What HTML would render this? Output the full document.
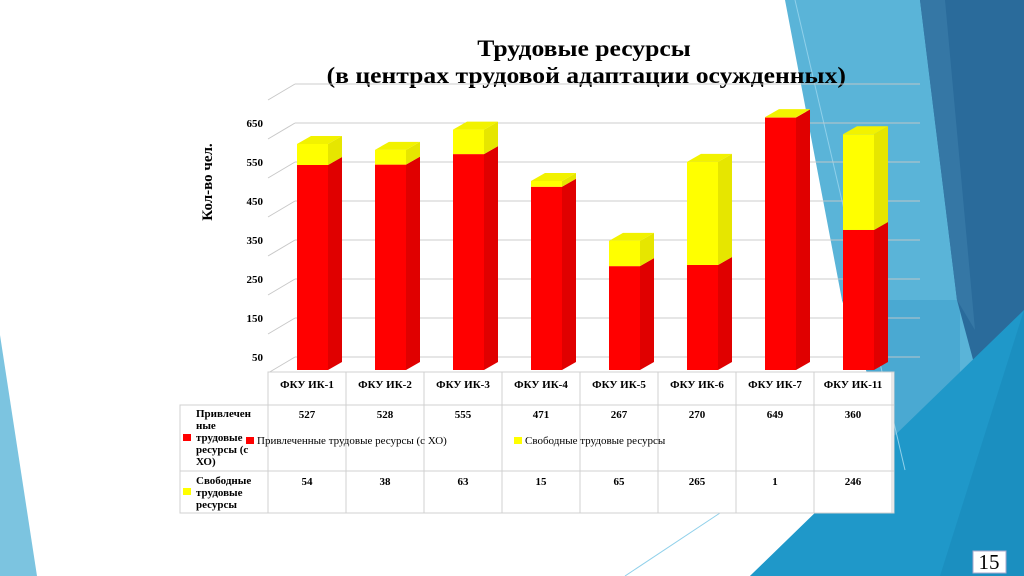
<!DOCTYPE html>
<html><head><meta charset="utf-8"><style>
body{margin:0;width:1024px;height:576px;overflow:hidden;background:#fff;font-family:"Liberation Serif",serif}
svg{display:block}
</style></head><body>
<svg id="s" width="1024" height="576" viewBox="0 0 1024 576" font-family="Liberation Serif, serif">
<g>
<polygon points="0,335 0,576 37,576" fill="#7cc4e0"/>
<polygon points="785,0 1024,0 1024,576 750,576 890,440 842,300" fill="#5ab4d8"/>
<polygon points="842,300 890,440 960,420 960,300" fill="#4aa9d2"/>
<polygon points="920,0 1024,0 1024,310 1000,460 957,300" fill="#2a6b9b"/>
<polygon points="920,0 945,0 975,330 957,300" fill="#3577a5"/>
<polygon points="750,576 1024,576 1024,310 890,440" fill="#1f98c9"/>
<polygon points="1024,310 1024,576 940,576" fill="#1b8fc0"/>
<line x1="795" y1="0" x2="905" y2="470" stroke="#8fd0ea" stroke-width="1"/>
<line x1="625" y1="576" x2="720" y2="513" stroke="#8fd0ea" stroke-width="1"/>
</g>
<g transform="translate(584,0) scale(1.115,1)">
<text x="0" y="56" text-anchor="middle" font-size="23" font-weight="bold">Трудовые ресурсы</text>
<text x="2" y="83" text-anchor="middle" font-size="23" font-weight="bold">(в центрах трудовой адаптации осужденных)</text>
</g>
<text transform="translate(212,182) rotate(-90)" text-anchor="middle" font-size="15" font-weight="bold">Кол-во чел.</text>
<g id="grid"></g>
<g id="ticks"></g>
<g id="bars"></g>
<g id="table"></g>
<g>
<rect x="973" y="551" width="33" height="22" fill="#fff" stroke="#aac"/>
<text x="989" y="569" text-anchor="middle" font-size="21">15</text>
</g>
</svg>
<script>
const categories=["ФКУ ИК-1","ФКУ ИК-2","ФКУ ИК-3","ФКУ ИК-4","ФКУ ИК-5","ФКУ ИК-6","ФКУ ИК-7","ФКУ ИК-11"];
const attracted=[527,528,555,471,267,270,649,360];
const free=[54,38,63,15,65,265,1,246];
const tickLabels=[50,150,250,350,450,550,650];
const NS="http://www.w3.org/2000/svg";
function mk(p,t,a){const e=document.createElementNS(NS,t);for(const k in a)e.setAttribute(k,a[k]);p.appendChild(e);return e;}
const K=0.389, BASE=370, DX=14, DY=8;
const yF=v=>BASE-v*K;
const colX=i=>268+i*78;
const grid=document.getElementById('grid');
for(let v=50;v<=750;v+=100){
  const y=357-(v-50)*0.39;
  const l=mk(grid,'line',{x1:295,y1:y,x2:920,y2:y,stroke:'#c8c8c8','stroke-width':1,'stroke-opacity':0.9});
  
  const d=mk(grid,'line',{x1:268,y1:y+16,x2:295,y2:y,stroke:'#c8c8c8','stroke-width':1});
  
}
const ticks=document.getElementById('ticks');
tickLabels.forEach(v=>{
  const t=mk(ticks,'text',{x:263,y:357-(v-50)*0.39+4,'text-anchor':'end','font-size':11,'font-weight':'bold'});
  
  t.textContent=v;
});
const bars=document.getElementById('bars');
function box(g,x,y0,y1,front,side,top,name){
  const w=31;
  const f=mk(g,'rect',{x:x,y:y1,width:w,height:y0-y1,fill:front});
  
  mk(g,'polygon',{points:`${x+w},${y0} ${x+w+DX},${y0-DY} ${x+w+DX},${y1-DY} ${x+w},${y1}`,fill:side});
  if(top) mk(g,'polygon',{points:`${x},${y1} ${x+DX},${y1-DY} ${x+w+DX},${y1-DY} ${x+w},${y1}`,fill:top});
}
categories.forEach((c,i)=>{
  const g=mk(bars,'g',{});
  
  
  const x=colX(i)+29;
  box(g,x,yF(0),yF(attracted[i]),'#ff0000','#e00000',null,'bar-attracted');
  box(g,x,yF(attracted[i]),yF(attracted[i]+free[i]),'#ffff00','#e6e600','#f2f200','bar-free');
});
const tb=document.getElementById('table');
mk(tb,'rect',{x:180,y:405,width:714,height:108,fill:'#fff',stroke:'#d0d0d0'});
mk(tb,'rect',{x:268,y:372,width:626,height:33,fill:'#fff',stroke:'#d0d0d0'});
for(let i=0;i<=categories.length;i++){mk(tb,'line',{x1:colX(i),y1:372,x2:colX(i),y2:513,stroke:'#d0d0d0'});}
mk(tb,'line',{x1:180,y1:471,x2:894,y2:471,stroke:'#d0d0d0'});
categories.forEach((c,i)=>{
  const t=mk(tb,'text',{x:colX(i)+39,y:388,'text-anchor':'middle','font-size':11,'font-weight':'bold'});
  t.textContent=c;
  const a=mk(tb,'text',{x:colX(i)+39,y:418,'text-anchor':'middle','font-size':11,'font-weight':'bold'});
  a.textContent=attracted[i];
  const b=mk(tb,'text',{x:colX(i)+39,y:485,'text-anchor':'middle','font-size':11,'font-weight':'bold'});
  b.textContent=free[i];
});
[["Привлечен",417],["ные",429],["трудовые",441],["ресурсы (с",453],["ХО)",465]].forEach(([s,y])=>{const t=mk(tb,'text',{x:196,y:y,'font-size':11,'font-weight':'bold'});t.textContent=s;});
[["Свободные",484],["трудовые",496],["ресурсы",508]].forEach(([s,y])=>{const t=mk(tb,'text',{x:196,y:y,'font-size':11,'font-weight':'bold'});t.textContent=s;});
mk(tb,'rect',{x:183,y:434,width:8,height:7,fill:'#ff0000'});
mk(tb,'rect',{x:183,y:488,width:8,height:7,fill:'#ffff00'});
const lg=mk(tb,'g',{});


mk(lg,'rect',{x:246,y:437,width:8,height:7,fill:'#ff0000'});
const l1=mk(lg,'text',{x:257,y:444,'font-size':11});l1.textContent="Привлеченные трудовые ресурсы (с ХО)";
mk(lg,'rect',{x:514,y:437,width:8,height:7,fill:'#ffff00'});
const l2=mk(lg,'text',{x:525,y:444,'font-size':11});l2.textContent="Свободные трудовые ресурсы";
</script>
</body></html>
